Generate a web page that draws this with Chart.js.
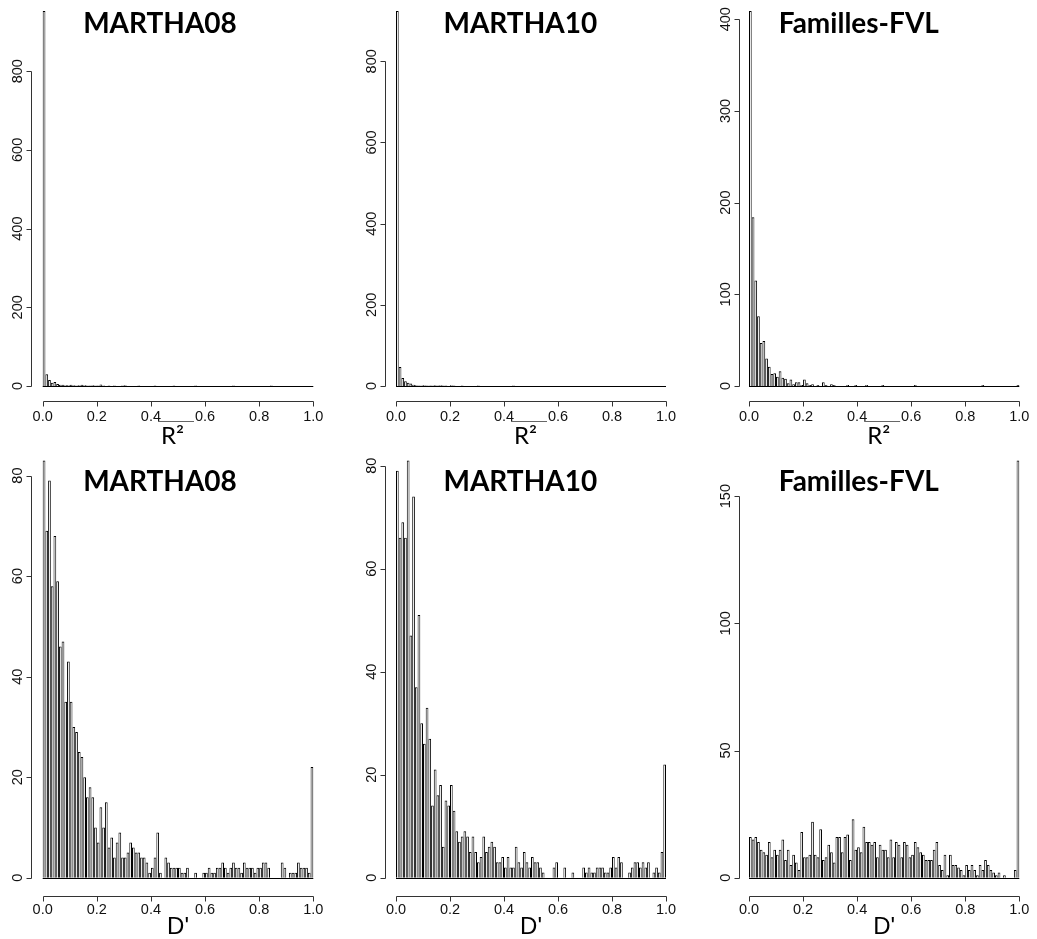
<!DOCTYPE html>
<html>
<head>
<meta charset="utf-8">
<title>LD histograms</title>
<script src="https://cdn.jsdelivr.net/npm/chart.js@4.4.1/dist/chart.umd.min.js"></script>
<style>
  html, body { margin: 0; padding: 0; background: #fff; }
  #page { position: relative; width: 1037px; height: 939px; overflow: hidden; background: #fff; }
  .panel { position: absolute; }
</style>
</head>
<body>
<div id="page">
  <div class="panel" style="left:0px;top:0px;width:345px;height:450px"><canvas id="r2Martha08"></canvas></div>
  <div class="panel" style="left:345px;top:0px;width:345px;height:450px"><canvas id="r2Martha10"></canvas></div>
  <div class="panel" style="left:690px;top:0px;width:347px;height:450px"><canvas id="r2Fvl"></canvas></div>
  <div class="panel" style="left:0px;top:450px;width:345px;height:489px"><canvas id="dMartha08"></canvas></div>
  <div class="panel" style="left:345px;top:450px;width:345px;height:489px"><canvas id="dMartha10"></canvas></div>
  <div class="panel" style="left:690px;top:450px;width:347px;height:489px"><canvas id="dFvl"></canvas></div>
</div>

<script>
  // 100 bins of width 0.01 on [0, 1]
  var binCenters = [];
  for (var i = 0; i < 100; i++) binCenters.push((i + 0.5) / 100);

  var titles = ["MARTHA08", "MARTHA10", "Familles-FVL"];
  var xTickValues = [0, 0.2, 0.4, 0.6, 0.8, 1.0];
  var xTickLabels = ["0.0", "0.2", "0.4", "0.6", "0.8", "1.0"];
  var yTicksR2Martha = [0, 200, 400, 600, 800];
  var yTicksR2Fvl = [0, 100, 200, 300, 400];
  var yTicksDMartha = [0, 20, 40, 60, 80];
  var yTicksDFvl = [0, 50, 100, 150];

  // counts per bin, R^2
  var r2Martha08 = [953,30,15,8,10,5,3,3,2,2, 3,2,1,2,3,2,1,1,2,1, 1,4,1,0,1,0,1,0,0,1,
                    2,0,0,0,0,1,0,0,0,0, 0,1,0,0,0,0,0,0,1,0, 0,0,0,0,0,0,1,0,0,0,
                    0,0,0,0,0,0,0,0,0,0, 1,0,0,0,0,0,0,0,0,0, 0,0,0,0,1,0,0,0,0,0,
                    0,0,0,0,0,0,0,0,0,0];
  var r2Martha10 = [924,47,20,12,8,6,3,2,1,1, 2,1,1,1,2,1,2,1,1,0, 2,1,0,0,1,0,0,0,0,0,
                    1,0,0,0,0,0,0,0,0,0, 0,0,0,1,0,0,0,0,0,0, 0,0,0,0,0,0,0,0,0,0,
                    0,0,0,0,0,0,0,0,0,0, 0,0,0,0,0,0,0,0,0,0, 0,0,0,0,0,0,0,0,0,0,
                    0,0,0,0,0,0,0,0,0,0];
  var r2Fvl = [409,184,115,76,47,49,30,21,13,14, 10,16,9,8,3,7,2,4,4,1, 7,3,1,2,0,1,0,4,1,0,
               2,1,0,0,0,0,1,0,0,1, 0,0,0,1,0,0,0,0,0,1, 0,0,0,0,0,0,0,0,0,0,
               0,1,0,0,0,0,0,0,0,0, 0,0,0,0,0,0,0,0,0,0, 0,0,0,0,0,0,1,0,0,0,
               0,0,0,0,0,0,0,0,0,1];

  // counts per bin, D'
  var dMartha08 = [83,69,79,58,68,59,46,47,35,43, 35,30,29,25,24,20,16,18,16,10,
                   7,14,10,15,6,8,4,7,9,4, 4,5,7,6,5,5,4,4,3,1,
                   2,4,9,1,0,4,3,2,2,2, 2,1,1,2,0,0,1,0,0,1,
                   1,2,1,1,2,2,3,2,1,2, 3,2,2,1,3,2,2,2,1,2,
                   2,3,3,2,0,0,0,0,3,2, 0,1,1,1,3,2,2,2,1,22];
  var dMartha10 = [79,66,69,66,81,47,74,37,51,30, 26,33,27,14,21,16,18,6,15,14,
                   18,13,9,7,8,9,8,5,8,5, 3,4,8,5,6,7,6,3,3,4,
                   2,4,2,2,6,3,2,5,3,2, 4,3,3,2,1,0,0,0,2,3,
                   0,0,2,0,0,1,0,0,0,2, 1,2,1,1,2,2,2,1,1,2,
                   4,2,4,3,0,0,1,2,3,3, 2,3,2,3,0,1,2,1,5,22];
  var dFvl = [16,15,16,14,11,10,9,14,8,11, 9,11,15,7,11,5,9,6,3,18,
              8,8,9,22,9,8,19,7,8,13, 10,6,16,16,10,16,17,7,23,11,
              12,10,20,14,14,13,14,8,13,11, 11,8,15,8,14,13,8,14,13,8,
              9,14,12,10,9,7,7,7,11,14, 5,3,9,1,9,5,5,4,3,1,
              5,3,5,3,1,5,3,7,5,3, 2,1,2,0,1,0,0,0,3,164];

  // page geometry of the six panels
  var cols = [
    {left: 0,   width: 345, plotLeft: 42.7, plotRight: 313.3, yAxisX: 31.3, titleX: 160},
    {left: 345, width: 345, plotLeft: 396,  plotRight: 666,   yAxisX: 385.2, titleX: 520.3},
    {left: 690, width: 347, plotLeft: 749,  plotRight: 1019.3, yAxisX: 739, titleX: 858.8}
  ];
  var rows = [
    {top: 0,   height: 450, plotTop: 11,    plotBottom: 386,   xAxisY: 401, tickGap: 19,   titleY: 32.5,  labelY: 443.5, xLabel: "R²"},
    {top: 450, height: 489, plotTop: 460.5, plotBottom: 877.7, xAxisY: 896, tickGap: 17.5, titleY: 490.5, labelY: 934,   xLabel: "D'"}
  ];

  var panels = [
    {id: "r2Martha08", row: 0, col: 0, counts: r2Martha08, yTicks: yTicksR2Martha},
    {id: "r2Martha10", row: 0, col: 1, counts: r2Martha10, yTicks: yTicksR2Martha},
    {id: "r2Fvl",      row: 0, col: 2, counts: r2Fvl,      yTicks: yTicksR2Fvl},
    {id: "dMartha08",  row: 1, col: 0, counts: dMartha08,  yTicks: yTicksDMartha},
    {id: "dMartha10",  row: 1, col: 1, counts: dMartha10,  yTicks: yTicksDMartha},
    {id: "dFvl",       row: 1, col: 2, counts: dFvl,       yTicks: yTicksDFvl}
  ];

  var tickFont = "14.5px 'Liberation Sans', Arial, sans-serif";

  // R style axes: detached from the plot region, lines only from first to last tick
  function drawAxes(chart, pn) {
    var ctx = chart.ctx, xs = chart.scales.x, ys = chart.scales.y;
    var c = cols[pn.col], r = rows[pn.row];
    var ox = c.left, oy = r.top;
    var px0 = xs.getPixelForValue(0), px1 = xs.getPixelForValue(1);
    var py0 = Math.round(ys.getPixelForValue(0)) + 0.5;

    ctx.save();
    ctx.lineWidth = 1;
    ctx.strokeStyle = "#000";
    // bottom edges of the bins
    ctx.beginPath();
    ctx.moveTo(px0, py0);
    ctx.lineTo(px1, py0);
    ctx.stroke();

    // x axis
    var ay = Math.round(r.xAxisY - oy) + 0.5;
    ctx.strokeStyle = "#333";
    ctx.beginPath();
    ctx.moveTo(Math.round(px0) + 0.5, ay);
    ctx.lineTo(Math.round(px1) + 0.5, ay);
    xTickValues.forEach(function (v) {
      var x = Math.round(xs.getPixelForValue(v)) + 0.5;
      ctx.moveTo(x, ay);
      ctx.lineTo(x, ay + 5);
    });
    ctx.stroke();
    ctx.fillStyle = "#111";
    ctx.font = tickFont;
    ctx.textAlign = "center";
    ctx.textBaseline = "alphabetic";
    xTickValues.forEach(function (v, k) {
      ctx.fillText(xTickLabels[k], xs.getPixelForValue(v), ay + r.tickGap);
    });

    // y axis
    var ax = Math.round(c.yAxisX - ox) + 0.5;
    var yTop = Math.round(ys.getPixelForValue(pn.yTicks[pn.yTicks.length - 1])) + 0.5;
    ctx.beginPath();
    ctx.moveTo(ax, py0);
    ctx.lineTo(ax, yTop);
    pn.yTicks.forEach(function (v) {
      var y = Math.round(ys.getPixelForValue(v)) + 0.5;
      ctx.moveTo(ax, y);
      ctx.lineTo(ax - 5, y);
    });
    ctx.stroke();
    pn.yTicks.forEach(function (v) {
      ctx.save();
      ctx.translate(ax - 9.5, ys.getPixelForValue(v));
      ctx.rotate(-Math.PI / 2);
      ctx.fillText(String(v), 0, 0);
      ctx.restore();
    });

    // panel title
    ctx.fillStyle = "#000";
    ctx.font = "bold 28px Lato, 'Open Sans', sans-serif";
    ctx.fillText(titles[pn.col], c.titleX - ox, r.titleY - oy);

    // axis label
    var mid = (px0 + px1) / 2;
    if (pn.row === 0) {
      ctx.font = "24px Lato, 'Open Sans', sans-serif";
      ctx.textAlign = "left";
      var lx = mid - 17;
      ctx.fillText(r.xLabel, lx, r.labelY - oy);
      ctx.strokeStyle = "#666";
      ctx.beginPath();
      ctx.moveTo(lx - 3, Math.round(421 - oy) + 0.5);
      ctx.lineTo(lx + 33, Math.round(421 - oy) + 0.5);
      ctx.stroke();
    } else {
      ctx.font = "24px 'Liberation Sans', Arial, sans-serif";
      ctx.textAlign = "center";
      ctx.fillText(r.xLabel, mid, r.labelY - oy);
    }
    ctx.restore();
  }

  function makeHist(pn) {
    var c = cols[pn.col], r = rows[pn.row];
    var points = pn.counts.map(function (n, k) { return {x: binCenters[k], y: n}; });
    return new Chart(document.getElementById(pn.id), {
      type: "bar",
      data: {
        datasets: [{
          data: points,
          backgroundColor: "#fff",
          borderColor: "#000",
          borderWidth: {top: 1, left: 1, right: 1, bottom: 0},
          borderSkipped: false,
          barPercentage: 1,
          categoryPercentage: 1,
          inflateAmount: 0,
          clip: false
        }]
      },
      options: {
        responsive: true,
        maintainAspectRatio: false,
        animation: false,
        events: [],
        layout: {
          padding: {
            left: c.plotLeft - c.left,
            right: c.left + c.width - c.plotRight,
            top: r.plotTop - r.top,
            bottom: r.top + r.height - r.plotBottom
          }
        },
        plugins: { legend: {display: false}, tooltip: {enabled: false} },
        scales: {
          x: {type: "linear", min: 0, max: 1, offset: false, display: false},
          y: {type: "linear", min: 0, max: Math.max.apply(null, pn.counts), display: false}
        }
      },
      plugins: [{id: "rAxes", afterDraw: function (chart) { drawAxes(chart, pn); }}]
    });
  }

  panels.forEach(makeHist);
</script>
</body>
</html>
